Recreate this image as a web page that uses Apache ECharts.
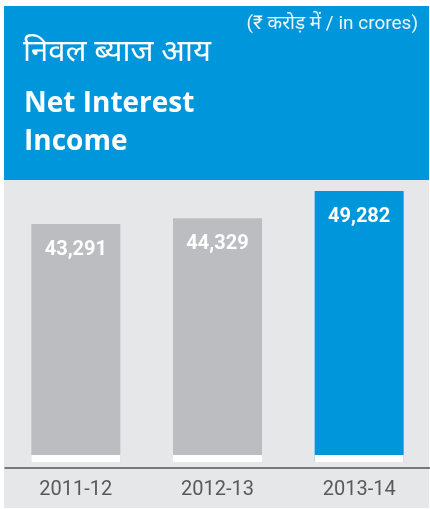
<!DOCTYPE html>
<html><head><meta charset="utf-8">
<script src="https://cdn.jsdelivr.net/npm/echarts@6/dist/echarts.min.js"></script>
<style>html,body{margin:0;padding:0;background:#fff}#c{width:430px;height:509px}</style>
</head><body><div id="c"></div>
<script>
const categories = ['2011-12', '2012-13', '2013-14'];
const values = [43291, 44329, 49282];
const barColors = ['#BCBDC0', '#BCBDC0', '#0096DB'];
const titleHindi = 'निवल ब्याज आय';
const titleEnglish = 'Net Interest\nIncome';
const unitText = '(₹ करोड़ में / in crores)';

const chart = echarts.init(document.getElementById('c'), null, {renderer: 'canvas'});
const font = 'Roboto, "Noto Sans", sans-serif';
const titleFont = '"Open Sans", Roboto, sans-serif';
chart.setOption({
  animation: false,
  graphic: [
    {type: 'rect', z: -10, shape: {x: 4, y: 6, width: 425, height: 174}, style: {fill: '#0096DB'}},
    {type: 'rect', z: -10, shape: {x: 4, y: 180, width: 425, height: 328}, style: {fill: '#E6E7E8'}}
  ],
  title: [
    {text: unitText, right: 7, top: 10, textStyle: {color: 'rgba(255,255,255,0.92)', fontSize: 19, fontWeight: 'normal', fontFamily: font}},
    {text: titleHindi, left: 18, top: 33, textStyle: {color: '#fff', fontSize: 31, fontWeight: 'normal', fontFamily: font}},
    {text: titleEnglish, left: 19, top: 80, textStyle: {color: '#fff', fontSize: 28, fontWeight: 'bold', lineHeight: 38, fontFamily: titleFont}}
  ],
  grid: {left: 5, width: 429, top: 187, bottom: 47},
  xAxis: {
    type: 'category', data: categories, offset: 6,
    axisLine: {onZero: false, lineStyle: {color: '#555', width: 1.5}},
    axisTick: {show: false},
    axisLabel: {color: '#58595B', fontSize: 20, margin: 12, fontFamily: font}
  },
  yAxis: {type: 'value', min: 0, max: 50000, show: false, splitLine: {show: false}},
  series: [
    {
      type: 'bar', barWidth: 89,
      data: values.map((v, i) => ({value: v, itemStyle: {color: barColors[i]}})),
      label: {
        show: true, position: 'insideTop', distance: 16, color: '#fff', fontSize: 20, fontWeight: 'bold', fontFamily: font,
        formatter: p => p.value.toLocaleString('en-US')
      }
    },
    {
      type: 'custom', z: 5,
      data: values.map((v, i) => [i, 0]),
      renderItem: (params, api) => {
        const p = api.coord([api.value(0), 0]);
        return {type: 'rect', shape: {x: p[0] - 44.5, y: p[1] - 7, width: 89, height: 7}, style: {fill: '#fff'}};
      }
    }
  ]
});
</script></body></html>
